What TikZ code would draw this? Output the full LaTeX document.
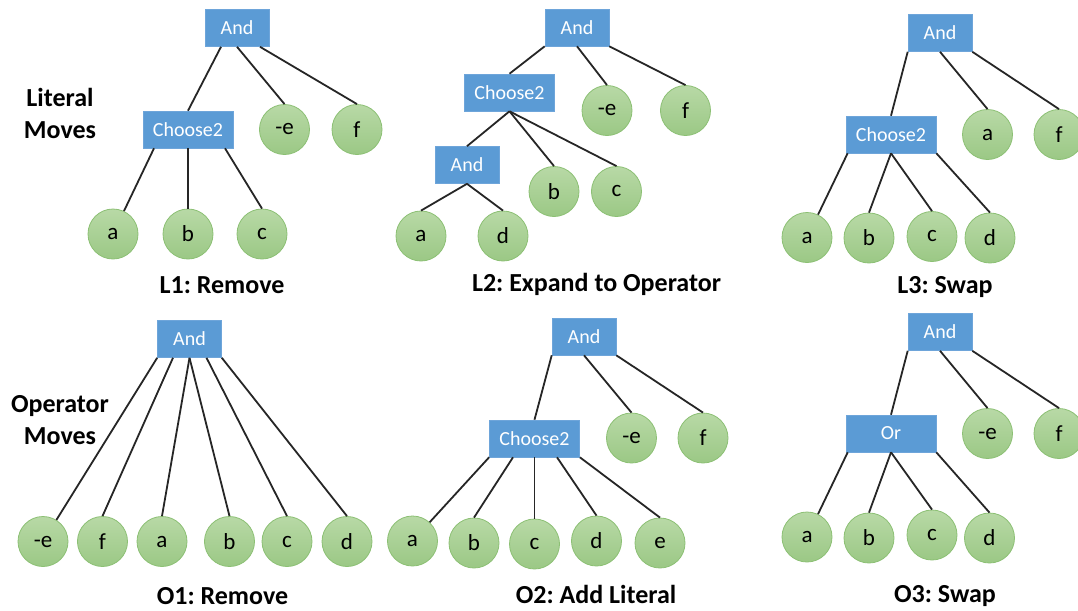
\documentclass[tikz,border=0pt]{standalone}
\usepackage{fontspec}
\setmainfont{Carlito}
\frenchspacing
\definecolor{opblue}{RGB}{91,155,213}
\definecolor{opline}{RGB}{110,165,218}
\definecolor{littop}{RGB}{184,217,166}
\definecolor{litbot}{RGB}{155,200,133}
\definecolor{litline}{RGB}{140,192,116}
\begin{document}
\begin{tikzpicture}[x=1pt,y=-1pt,
	op/.style={rectangle, minimum width=64pt, minimum height=37pt, inner xsep=10pt, fill=opblue, draw=opline, line width=.6pt, text=white, font=\fontsize{20}{24}\selectfont},
	lit/.style={circle, minimum size=50pt, inner sep=0pt, draw=litline, line width=.8pt, top color=littop, bottom color=litbot, font=\fontsize{23}{26}\selectfont},
	link/.style={draw=black!85, line width=1.8pt},
	title/.style={anchor=base, font=\bfseries\fontsize{26}{30}\selectfont},
	side/.style={align=center, font=\bfseries\fontsize{26}{32}\selectfont}]
	\useasboundingbox (0,0) rectangle (1078,610);
	\fill[white] (0,0) rectangle (1078,610);
	\node[side] (litlbl) at (60,113) {Literal\\Moves};
	\node[side] (oplbl) at (60,420) {Operator\\Moves};
	% L1
	\node[op] (l1and) at (237,28) {And};
	\node[op] (l1ch) at (188,129.5) {Choose2};
	\node[lit] (l1ne) at (284.5,129.5) {-e};	\node[lit] (l1f) at (357,129.5) {f};
	\node[lit] (l1a) at (113,234) {a};	\node[lit] (l1b) at (188,234) {b};	\node[lit] (l1c) at (262,234) {c};
	\draw[link] ([xshift=-16pt]l1and.south)--(l1ch.north);
	\draw[link] (l1and.south)--(l1ne.north);
	\draw[link] ([xshift=23pt]l1and.south)--(l1f.north);
	\draw[link] ([xshift=-34pt]l1ch.south)--(l1a);
	\draw[link] (l1ch.south)--(l1b.north);
	\draw[link] ([xshift=37pt]l1ch.south)--(l1c.north);
	\node[title] (l1t) at (222,293) {L1: Remove};
	% L2
	\node[op] (l2and) at (577,27.5) {And};
	\node[op] (l2ch) at (509.5,92.5) {Choose2};
	\node[lit] (l2ne) at (607,110.5) {-e};	\node[lit] (l2f) at (685.5,110.5) {f};
	\node[op] (l2and2) at (467,165) {And};
	\node[lit] (l2b) at (554,191.5) {b};	\node[lit] (l2c) at (616.5,191.5) {c};
	\node[lit] (l2a) at (421,236) {a};	\node[lit] (l2d) at (503,236) {d};
	\draw[link] (l2and.south west)--(l2ch.north);
	\draw[link] (l2and.south)--(l2ne.north);
	\draw[link] (l2and.south east)--(l2f.north);
	\draw[link] (l2ch.south)--(l2and2.north);
	\draw[link] (l2ch.south)--(l2b.north);
	\draw[link] (l2ch.south)--(l2c.north);
	\draw[link] (l2and2.south)--(l2a.north);
	\draw[link] (l2and2.south)--(l2d.north);
	\node[title] (l2t) at (596.5,291) {L2: Expand to Operator};
	% L3
	\node[op] (l3and) at (940,33) {And};
	\node[op] (l3ch) at (891,134.5) {Choose2};
	\node[lit] (l3na) at (987.5,134.5) {a};	\node[lit] (l3f) at (1059,134.5) {f};
	\node[lit] (l3a) at (807,237.5) {a};	\node[lit] (l3b) at (869,238) {b};
	\node[lit] (l3c) at (932,236.5) {c};	\node[lit] (l3d) at (990,238) {d};
	\draw[link] (l3and.south west)--(l3ch.north);
	\draw[link] (l3and.south)--(l3na.north);
	\draw[link] (l3and.south east)--(l3f.north);
	\draw[link] ([xshift=2pt]l3ch.south west)--(l3a);
	\draw[link] (l3ch.south)--(l3b.north);
	\draw[link] (l3ch.south)--(l3c.north);
	\draw[link] (l3ch.south east)--(l3d.north);
	\node[title] (l3t) at (945,293) {L3: Swap};
	% O1
	\node[op] (o1and) at (189.5,339) {And};
	\node[lit] (o1ne) at (43,541.5) {-e};	\node[lit] (o1f) at (102.5,541.5) {f};
	\node[lit] (o1a) at (162,541.5) {a};	\node[lit] (o1b) at (229.5,541.5) {b};
	\node[lit] (o1c) at (287,541.5) {c};	\node[lit] (o1d) at (347,541.5) {d};
	\draw[link] (o1and.south west)--(o1ne);
	\draw[link] ([xshift=-16.5pt]o1and.south)--(o1f.north);
	\draw[link] (o1and.south)--(o1a.north);
	\draw[link] (o1and.south)--(o1b.north);
	\draw[link] ([xshift=17pt]o1and.south)--(o1c.north);
	\draw[link] (o1and.south east)--(o1d.north);
	\node[title] (o1t) at (222.5,604) {O1: Remove};
	% O2
	\node[op] (o2and) at (584,336.5) {And};
	\node[op] (o2ch) at (534.5,438.5) {Choose2};
	\node[lit] (o2ne) at (631.5,438) {-e};	\node[lit] (o2f) at (703,438) {f};
	\node[lit] (o2a) at (412.5,541) {a};	\node[lit] (o2b) at (474,543) {b};
	\node[lit] (o2c) at (534.5,544) {c};	\node[lit] (o2d) at (596.5,541) {d};
	\node[lit] (o2e) at (660,543) {e};
	\draw[link] (o2and.south west)--(o2ch.north);
	\draw[link] (o2and.south)--(o2ne.north);
	\draw[link] (o2and.south east)--(o2f.north);
	\draw[link] (o2ch.south west)--(o2a);
	\draw[link] ([xshift=-21.5pt]o2ch.south)--(o2b.north);
	\draw[link] (o2ch.south)--(o2c.north);
	\draw[link] ([xshift=22.5pt]o2ch.south)--(o2d.north);
	\draw[link] (o2ch.south east)--(o2e.north);
	\node[title] (o2t) at (596,603) {O2: Add Literal};
	% O3
	\node[op] (o3and) at (940,332) {And};
	\node[op, minimum width=90pt] (o3or) at (891,433.5) {Or};
	\node[lit] (o3ne) at (987.5,433.5) {-e};	\node[lit] (o3f) at (1059,433.5) {f};
	\node[lit] (o3a) at (807,537) {a};	\node[lit] (o3b) at (869,538) {b};
	\node[lit] (o3c) at (932,535) {c};	\node[lit] (o3d) at (989.5,538) {d};
	\draw[link] (o3and.south west)--(o3or.north);
	\draw[link] (o3and.south)--(o3ne.north);
	\draw[link] (o3and.south east)--(o3f.north);
	\draw[link] ([xshift=2pt]o3or.south west)--(o3a);
	\draw[link] (o3or.south)--(o3b.north);
	\draw[link] (o3or.south)--(o3c.north);
	\draw[link] (o3or.south east)--(o3d.north);
	\node[title] (o3t) at (945,602) {O3: Swap};
\end{tikzpicture}
\end{document}
